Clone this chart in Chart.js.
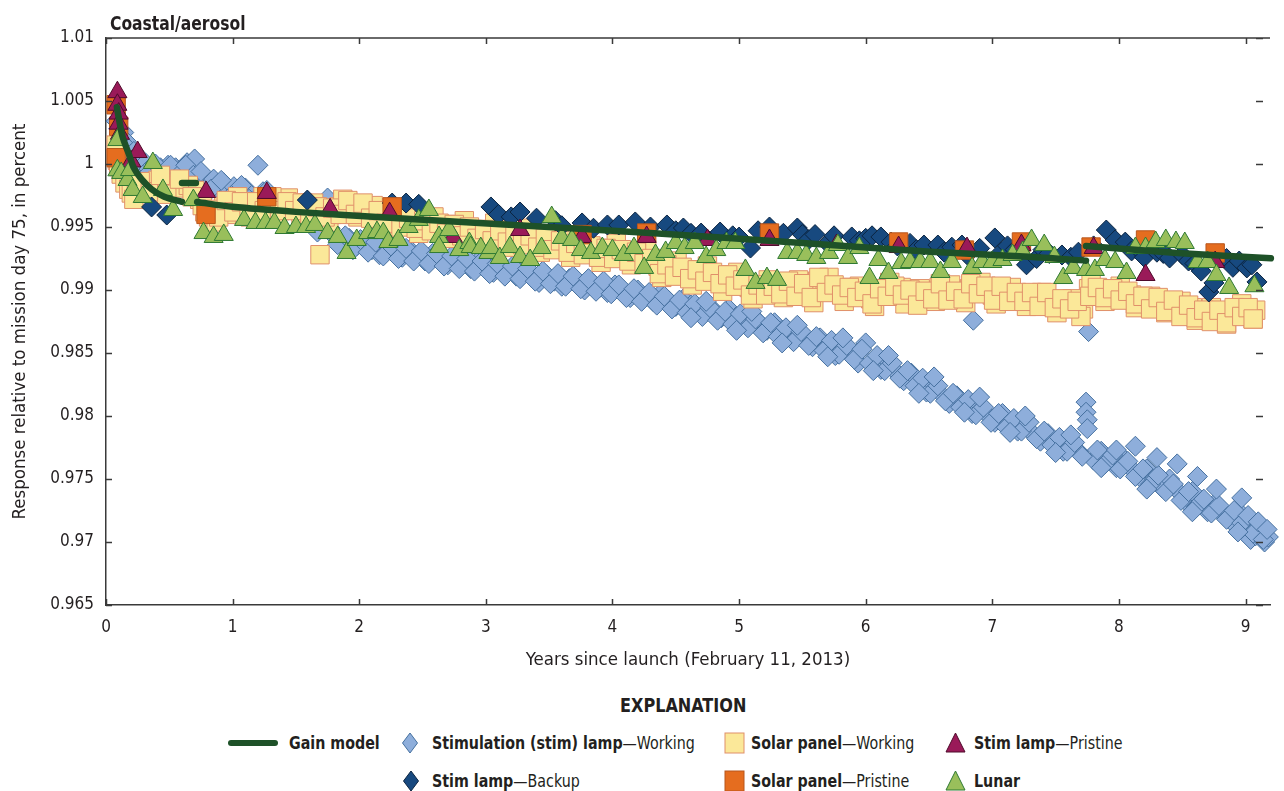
<!DOCTYPE html>
<html>
<head>
<meta charset="utf-8">
<script src="https://cdn.jsdelivr.net/npm/chart.js@4.4.1/dist/chart.umd.min.js"></script>
<style>
  html, body { margin: 0; padding: 0; background: #fff; }
  body { width: 1284px; height: 791px; position: relative; overflow: hidden;
         font-family: "Liberation Sans Narrow", "Arial Narrow", "DejaVu Sans Condensed", sans-serif; color: #231f20; }
  #wrap { position: absolute; left: 0; top: 0; width: 1284px; height: 680px; }
  #panelTitle { position: absolute; left: 110px; top: 12px; font-size: 19px; font-weight: bold;
                transform: scaleX(0.91); transform-origin: 0 0; }
  .head { position: absolute; left: 0; width: 1366px; top: 694px; text-align: center; font-size: 19px; font-weight: bold; }
  .head span { display: inline-block; transform: scaleX(0.94); }
  .item { position: absolute; font-size: 18px; line-height: 20px; white-space: nowrap;
          transform: scaleX(0.88); transform-origin: 0 0; }
  .item b { font-weight: bold; }
  .mk { position: absolute; }
</style>
</head>
<body>
<div id="wrap"><canvas id="graficoCoastal" width="1284" height="680"></canvas></div>
<div id="panelTitle">Coastal/aerosol</div>

<div class="head"><span>EXPLANATION</span></div>
<svg class="mk" style="left:226px;top:738px" width="54" height="10"><line x1="5" y1="5" x2="49" y2="5" stroke="#1e5128" stroke-width="6" stroke-linecap="round"/></svg>
<div class="item" style="left:289px;top:733px"><b>Gain model</b></div>
<svg class="mk" style="left:401px;top:732px" width="18" height="22"><polygon points="9,1 16.5,11 9,21 1.5,11" fill="#8eaedb" stroke="#45709f" stroke-width="1"/></svg>
<div class="item" style="left:432px;top:733px"><b>Stimulation (stim) lamp</b>—Working</div>
<svg class="mk" style="left:724px;top:732px" width="22" height="22"><rect x="1" y="1" width="19" height="20" fill="#fbe899" stroke="#e0906a" stroke-width="1"/></svg>
<div class="item" style="left:751px;top:733px"><b>Solar panel</b>—Working</div>
<svg class="mk" style="left:945px;top:732px" width="22" height="22"><polygon points="10.5,1 20,20 1,20" fill="#9a1a59" stroke="#4e0a2b" stroke-width="1"/></svg>
<div class="item" style="left:974px;top:733px"><b>Stim lamp</b>—Pristine</div>

<svg class="mk" style="left:402px;top:770px" width="18" height="22"><polygon points="9,1 16.5,11 9,21 1.5,11" fill="#17497f" stroke="#0b2440" stroke-width="1"/></svg>
<div class="item" style="left:432px;top:771px"><b>Stim lamp</b>—Backup</div>
<svg class="mk" style="left:724px;top:770px" width="22" height="22"><rect x="1" y="1" width="19" height="20" fill="#e56d1f" stroke="#b8561c" stroke-width="1"/></svg>
<div class="item" style="left:751px;top:771px"><b>Solar panel</b>—Pristine</div>
<svg class="mk" style="left:945px;top:770px" width="22" height="22"><polygon points="10.5,1 20,20 1,20" fill="#99bf5b" stroke="#2f7a33" stroke-width="1"/></svg>
<div class="item" style="left:974px;top:771px"><b>Lunar</b></div>

<script>
// Years since launch, response relative to mission day 75

const gainModel = [
  [0.086, 1.0045], [0.13, 1.0022], [0.18, 1.0008], [0.22, 0.9997], [0.28, 0.9988], [0.36, 0.9980],
  [0.46, 0.9974], [0.60, 0.9970], null,
  [0.60, 0.99849], [0.71, 0.99849], null,
  [0.72, 0.99698], [1.0, 0.9966], [1.5, 0.9962], [2.14, 0.9958], [3.08, 0.99524], [4.33, 0.9945],
  [5.5, 0.99373], [6.51, 0.99304], [7.29, 0.99264], [7.74, 0.99233], null,
  [7.74, 0.99349], [8.46, 0.99294], [9.2, 0.99252]
]

const stimWorking = [
  [0.08, 1.0034], [0.10, 1.0028], [0.12, 1.0022], [0.14, 1.0025], [0.16, 1.0018], [0.18, 1.0012],
  [0.20, 1.0008], [0.22, 1.0010], [0.25, 1.0003], [0.28, 0.9998], [0.31, 1.0001], [0.34, 0.9996],
  [0.37, 0.9999], [0.40, 0.9993], [0.43, 0.9997], [0.46, 0.9995], [0.49, 0.9999], [0.52, 0.9993],
  [0.55, 0.9997], [0.58, 0.9992], [0.61, 0.9996], [0.64, 1.0001], [0.67, 0.9994], [0.70, 1.0004],
  [0.73, 0.9990], [0.77, 0.9986], [0.81, 0.9983], [0.85, 0.9988], [0.89, 0.9980], [0.93, 0.9985],
  [0.97, 0.9978], [1.01, 0.9982], [1.05, 0.9976], [1.10, 0.9981], [1.15, 0.9975], [1.20, 0.9999],
  [1.24, 0.9978], [1.29, 0.9973], [1.34, 0.9970], [1.40, 0.9968], [1.46, 0.9965], [1.52, 0.9962],
  [1.58, 0.9958], [1.64, 0.9953], [1.70, 0.9949], [1.75, 0.9973], [1.80, 0.9943], [1.86, 0.9938],
  [1.92, 0.9941], [1.98, 0.9935], [2.04, 0.9939], [2.10, 0.9932], [2.16, 0.9928], [2.22, 0.9935],
  [2.28, 0.9930], [2.34, 0.9926], [2.40, 0.9932], [2.46, 0.9927], [2.52, 0.9923], [2.58, 0.9929],
  [2.64, 0.9924], [2.70, 0.9920], [2.76, 0.9926], [2.82, 0.9921], [2.88, 0.9917], [2.94, 0.9923],
  [3.00, 0.9918], [3.06, 0.9914], [3.12, 0.9920], [3.18, 0.9915], [3.24, 0.9911], [3.30, 0.9916],
  [3.36, 0.9910], [3.42, 0.9906], [3.48, 0.9912], [3.54, 0.9907], [3.60, 0.9903], [3.66, 0.9909],
  [3.72, 0.9904], [3.78, 0.9900], [3.84, 0.9906], [3.90, 0.9902], [3.96, 0.9898], [4.02, 0.9904],
  [4.08, 0.9899], [4.14, 0.9894], [4.20, 0.9900], [4.26, 0.9895], [4.32, 0.9891], [4.38, 0.9897],
  [4.44, 0.9892], [4.50, 0.9887], [4.56, 0.9893], [4.62, 0.9888], [4.68, 0.9883], [4.74, 0.9889],
  [4.80, 0.9884], [4.86, 0.9878], [4.92, 0.9885], [4.98, 0.9879], [5.04, 0.9873], [5.10, 0.9880],
  [5.16, 0.9874], [5.22, 0.9868], [5.28, 0.9874], [5.34, 0.9868], [5.40, 0.9862], [5.46, 0.9868],
  [5.52, 0.9861], [5.58, 0.9855], [5.64, 0.9862], [5.70, 0.9855], [5.76, 0.9848], [5.82, 0.9856],
  [5.88, 0.9849], [5.94, 0.9842], [6.00, 0.9858], [6.06, 0.9844], [6.12, 0.9837], [6.18, 0.9843],
  [6.24, 0.9835], [6.30, 0.9828], [6.36, 0.9834], [6.42, 0.9826], [6.48, 0.9819], [6.54, 0.9825],
  [6.60, 0.9817], [6.66, 0.9810], [6.72, 0.9816], [6.78, 0.9808], [6.84, 0.9802], [6.85, 0.9876],
  [6.90, 0.9809], [6.96, 0.9801], [7.02, 0.9795], [7.08, 0.9802], [7.14, 0.9794], [7.20, 0.9788],
  [7.26, 0.9795], [7.32, 0.9786], [7.38, 0.9780], [7.44, 0.9786], [7.50, 0.9779], [7.56, 0.9772],
  [7.62, 0.9779], [7.68, 0.9772], [7.74, 0.9811], [7.74, 0.9803], [7.75, 0.9797], [7.75, 0.9790],
  [7.76, 0.9867], [7.80, 0.9765], [7.86, 0.9772], [7.92, 0.9765], [7.98, 0.9759], [8.04, 0.9766],
  [8.10, 0.9758], [8.16, 0.9752], [8.22, 0.9758], [8.28, 0.9750], [8.34, 0.9743], [8.40, 0.9750],
  [8.46, 0.9741], [8.52, 0.9733], [8.58, 0.9740], [8.64, 0.9731], [8.70, 0.9724], [8.76, 0.9731],
  [8.82, 0.9722], [8.88, 0.9717], [8.94, 0.9725], [9.00, 0.9710], [9.04, 0.9702], [9.08, 0.9705],
  [9.12, 0.9712], [9.15, 0.9700], [9.18, 0.9704],
  // in-between dates, filling the band around the trend
  [0.33, 0.9992], [0.39, 1.0000], [0.45, 0.9991], [0.51, 0.9999], [0.57, 0.9991], [0.63, 0.9999],
  [0.69, 0.9991], [0.75, 0.9994], [0.83, 0.9980], [0.91, 0.9987], [0.99, 0.9975], [1.07, 0.9983],
  [1.13, 0.9972], [1.27, 0.9979], [1.37, 0.9965], [1.43, 0.9971], [1.55, 0.9956], [1.61, 0.9961],
  [1.67, 0.9946], [1.77, 0.9949], [1.83, 0.9936], [1.89, 0.9943], [1.95, 0.9932], [2.01, 0.9940],
  [2.07, 0.9930], [2.13, 0.9938], [2.19, 0.9927], [2.25, 0.9935], [2.31, 0.9925], [2.37, 0.9933],
  [2.43, 0.9923], [2.49, 0.9931], [2.55, 0.9921], [2.61, 0.9929], [2.67, 0.9919], [2.73, 0.9927],
  [2.79, 0.9917], [2.85, 0.9925], [2.91, 0.9915], [2.97, 0.9923], [3.03, 0.9913], [3.09, 0.9921],
  [3.15, 0.9911], [3.21, 0.9919], [3.27, 0.9909], [3.33, 0.9917], [3.39, 0.9907], [3.45, 0.9915],
  [3.51, 0.9905], [3.57, 0.9913], [3.63, 0.9903], [3.69, 0.9911], [3.75, 0.9901], [3.81, 0.9909],
  [3.87, 0.9899], [3.93, 0.9907], [3.99, 0.9897], [4.05, 0.9904], [4.11, 0.9894], [4.17, 0.9901],
  [4.23, 0.9891], [4.29, 0.9898], [4.35, 0.9888], [4.41, 0.9895], [4.47, 0.9885], [4.53, 0.9892],
  [4.59, 0.9882], [4.65, 0.9889], [4.71, 0.9879], [4.77, 0.9886], [4.83, 0.9876], [4.89, 0.9883],
  [4.95, 0.9873], [5.01, 0.9881], [5.07, 0.9870], [5.13, 0.9877], [5.19, 0.9866], [5.25, 0.9874],
  [5.31, 0.9863], [5.37, 0.9870], [5.43, 0.9859], [5.49, 0.9867], [5.55, 0.9856], [5.61, 0.9863],
  [5.67, 0.9852], [5.73, 0.9860], [5.79, 0.9849], [5.85, 0.9856], [5.91, 0.9845], [5.97, 0.9853],
  [6.03, 0.9842], [6.09, 0.9848], [6.15, 0.9836], [6.21, 0.9842], [6.27, 0.9830], [6.33, 0.9836],
  [6.39, 0.9824], [6.45, 0.9830], [6.51, 0.9818], [6.57, 0.9824], [6.63, 0.9812], [6.69, 0.9818],
  [6.75, 0.9807], [6.81, 0.9813], [6.87, 0.9801], [6.93, 0.9807], [6.99, 0.9795], [7.05, 0.9802],
  [7.11, 0.9791], [7.17, 0.9798], [7.23, 0.9788], [7.29, 0.9795], [7.35, 0.9782], [7.41, 0.9788],
  [7.47, 0.9777], [7.53, 0.9783], [7.59, 0.9772], [7.65, 0.9779], [7.71, 0.9768], [7.83, 0.9773],
  [7.89, 0.9762], [7.95, 0.9769], [8.01, 0.9758], [8.07, 0.9764], [8.13, 0.9752], [8.19, 0.9758],
  [8.25, 0.9746], [8.31, 0.9753], [8.37, 0.9740], [8.43, 0.9746], [8.49, 0.9733], [8.55, 0.9740],
  [8.61, 0.9728], [8.67, 0.9734], [8.73, 0.9723], [8.79, 0.9729], [8.85, 0.9718], [8.91, 0.9725],
  [8.97, 0.9715], [9.02, 0.9721], [9.06, 0.9707], [9.10, 0.9716], [9.14, 0.9702], [9.17, 0.9710],
  // outliers along the lower and upper edge
  [4.62, 0.9878], [4.98, 0.9868], [5.34, 0.9858], [5.70, 0.9847], [6.06, 0.9836], [6.42, 0.9818],
  [6.78, 0.9803], [7.14, 0.9787], [7.50, 0.9771], [7.86, 0.9759], [8.22, 0.9742], [8.58, 0.9724],
  [8.94, 0.9708], [4.74, 0.9891], [5.10, 0.9883], [5.46, 0.9872], [5.82, 0.9862], [6.18, 0.9848],
  [6.54, 0.9831], [6.90, 0.9815], [7.26, 0.9800], [7.62, 0.9785], [7.98, 0.9773], [8.13, 0.9776],
  [8.30, 0.9767], [8.46, 0.9762], [8.62, 0.9752], [8.77, 0.9742], [8.97, 0.9735]
]

const stimBackup = [
  [0.36, 0.99659], [0.48, 0.99595], [1.59, 0.99714], [2.26, 0.9969], [2.37, 0.9969], [2.47, 0.9968],
  [3.04, 0.99659], [3.10, 0.9960], [3.20, 0.9958], [3.27, 0.99619], [3.40, 0.9957], [3.55, 0.9955],
  [3.60, 0.9951], [3.76, 0.99532], [3.85, 0.9949], [3.96, 0.99516], [4.05, 0.99516], [4.18, 0.9954],
  [4.30, 0.9950], [4.43, 0.99516], [4.50, 0.9947], [4.56, 0.99492], [4.62, 0.9945], [4.70, 0.99452],
  [4.85, 0.9946], [4.95, 0.9943], [5.00, 0.9942], [5.09, 0.99333], [5.15, 0.9947], [5.24, 0.9950],
  [5.35, 0.9945], [5.46, 0.99492], [5.50, 0.9944], [5.55, 0.9940], [5.60, 0.9944], [5.70, 0.9937],
  [5.75, 0.9943], [5.89, 0.99421], [5.95, 0.9939], [6.00, 0.9941], [6.05, 0.9943], [6.12, 0.99421],
  [6.20, 0.9938], [6.25, 0.9935], [6.35, 0.9937], [6.40, 0.9932], [6.46, 0.99357], [6.57, 0.99357],
  [6.62, 0.9930], [6.68, 0.9934], [6.76, 0.99357], [6.80, 0.9928], [6.90, 0.9933], [7.02, 0.99413],
  [7.07, 0.9930], [7.12, 0.9935], [7.18, 0.9932], [7.27, 0.9920], [7.35, 0.9925], [7.40, 0.9932],
  [7.45, 0.9929], [7.55, 0.99278], [7.62, 0.9926], [7.68, 0.9930], [7.80, 0.9935], [7.90, 0.99476],
  [7.97, 0.99397], [8.05, 0.9938], [8.10, 0.9931], [8.15, 0.9933], [8.20, 0.9926], [8.30, 0.9930],
  [8.35, 0.9929], [8.40, 0.99254], [8.50, 0.9928], [8.55, 0.9923], [8.60, 0.9921], [8.65, 0.9915],
  [8.71, 0.98984], [8.75, 0.99056], [8.85, 0.9925], [8.90, 0.9918], [8.95, 0.9923], [9.01, 0.99175],
  [9.05, 0.9920], [9.09, 0.99064]
]

const solarWorking = [
  [0.08, 1.0015], [0.09, 1.0003], [0.10, 0.9998], [0.12, 0.9992], [0.15, 0.9985], [0.18, 0.9980],
  [0.20, 0.9977], [0.24, 0.9979], [0.29, 0.9981], [0.33, 0.9984], [0.37, 0.9986], [0.41, 0.9987],
  [0.45, 0.9984], [0.50, 0.9982], [0.55, 0.9983], [0.60, 0.9981], [0.65, 0.9983], [0.70, 0.9979],
  [0.74, 0.9972], [0.78, 0.9962], [0.81, 0.9958], [0.85, 0.9960], [0.89, 0.9963], [0.93, 0.9966],
  [0.97, 0.9969], [1.01, 0.9966], [1.06, 0.9968], [1.11, 0.9964], [1.16, 0.9967], [1.21, 0.9965],
  [1.26, 0.9969], [1.31, 0.9971], [1.36, 0.9968], [1.41, 0.9964], [1.46, 0.9967], [1.51, 0.9969],
  [1.56, 0.9963], [1.61, 0.9960], [1.66, 0.9962], [1.69, 0.9928], [1.72, 0.9965], [1.78, 0.9960],
  [1.84, 0.9966], [1.90, 0.9968], [1.96, 0.9964], [2.02, 0.9966], [2.08, 0.9962], [2.14, 0.9959],
  [2.20, 0.9957], [2.26, 0.9961], [2.32, 0.9955], [2.38, 0.9952], [2.44, 0.9956], [2.50, 0.9950],
  [2.56, 0.9953], [2.62, 0.9948], [2.68, 0.9952], [2.74, 0.9947], [2.80, 0.9950], [2.86, 0.9945],
  [2.92, 0.9948], [2.98, 0.9943], [3.04, 0.9946], [3.10, 0.9942], [3.16, 0.9945], [3.22, 0.9940],
  [3.28, 0.9943], [3.34, 0.9938], [3.40, 0.9941], [3.46, 0.9936], [3.52, 0.9939], [3.58, 0.9934],
  [3.64, 0.9937], [3.70, 0.9932], [3.76, 0.9935], [3.82, 0.9930], [3.88, 0.9933], [3.94, 0.9928],
  [4.00, 0.9931], [4.06, 0.9927], [4.12, 0.9930], [4.18, 0.9925], [4.24, 0.9928], [4.30, 0.9922],
  [4.36, 0.9919], [4.42, 0.9915], [4.48, 0.9918], [4.54, 0.9913], [4.60, 0.9916], [4.66, 0.9911],
  [4.72, 0.9914], [4.78, 0.9909], [4.84, 0.9912], [4.90, 0.9907], [4.96, 0.9910], [5.02, 0.9905],
  [5.08, 0.9902], [5.14, 0.9899], [5.20, 0.9903], [5.26, 0.9898], [5.32, 0.9902], [5.38, 0.9904],
  [5.44, 0.9899], [5.50, 0.9902], [5.56, 0.9897], [5.62, 0.9907], [5.68, 0.9903], [5.74, 0.9899],
  [5.80, 0.9902], [5.86, 0.9897], [5.92, 0.9900], [5.98, 0.9895], [6.04, 0.9893], [6.10, 0.9897],
  [6.16, 0.9901], [6.22, 0.9898], [6.28, 0.9902], [6.34, 0.9896], [6.40, 0.9892], [6.46, 0.9895],
  [6.52, 0.9899], [6.58, 0.9902], [6.64, 0.9897], [6.70, 0.9894], [6.76, 0.9898], [6.82, 0.9901],
  [6.88, 0.9903], [6.94, 0.9899], [7.00, 0.9896], [7.06, 0.9900], [7.12, 0.9896], [7.18, 0.9893],
  [7.24, 0.9897], [7.30, 0.9894], [7.36, 0.9891], [7.42, 0.9895], [7.48, 0.9891], [7.54, 0.9888],
  [7.60, 0.9891], [7.66, 0.9887], [7.72, 0.9885], [7.76, 0.9901], [7.80, 0.9897], [7.86, 0.9900],
  [7.92, 0.9896], [7.98, 0.9899], [8.04, 0.9894], [8.10, 0.9896], [8.16, 0.9892], [8.22, 0.9889],
  [8.28, 0.9892], [8.34, 0.9887], [8.40, 0.9890], [8.46, 0.9885], [8.52, 0.9883], [8.58, 0.9886],
  [8.64, 0.9881], [8.70, 0.9879], [8.76, 0.9882], [8.82, 0.9878], [8.88, 0.9880], [8.94, 0.9885],
  [9.00, 0.9883], [9.04, 0.9880], [9.08, 0.9884],
  // upper and lower edge of the band
  [0.22, 0.9972], [0.27, 0.9986], [0.35, 0.9978], [0.43, 0.9991], [0.48, 0.9976], [0.58, 0.9988],
  [0.68, 0.9974], [0.76, 0.9967], [0.87, 0.9954], [0.95, 0.9960], [1.04, 0.9974], [1.14, 0.9958],
  [1.24, 0.9974], [1.34, 0.9960], [1.44, 0.9973], [1.54, 0.9957], [1.64, 0.9969], [1.76, 0.9954],
  [1.87, 0.9972], [1.99, 0.9958], [2.11, 0.9967], [2.23, 0.9950], [2.35, 0.9962], [2.47, 0.9945],
  [2.59, 0.9958], [2.71, 0.9941], [2.83, 0.9955], [2.95, 0.9937], [3.07, 0.9953], [3.19, 0.9934],
  [3.31, 0.9949], [3.43, 0.9930], [3.55, 0.9944], [3.67, 0.9926], [3.79, 0.9941], [3.91, 0.9922],
  [4.03, 0.9937], [4.15, 0.9920], [4.27, 0.9932], [4.39, 0.9910], [4.51, 0.9923], [4.63, 0.9904],
  [4.75, 0.9919], [4.87, 0.9899], [4.99, 0.9914], [5.11, 0.9893], [5.23, 0.9908], [5.35, 0.9894],
  [5.47, 0.9908], [5.59, 0.9890], [5.71, 0.9910], [5.83, 0.9891], [5.95, 0.9903], [6.07, 0.9887],
  [6.19, 0.9906], [6.31, 0.9889], [6.43, 0.9901], [6.55, 0.9891], [6.67, 0.9904], [6.79, 0.9890],
  [6.91, 0.9906], [7.03, 0.9889], [7.15, 0.9902], [7.27, 0.9887], [7.39, 0.9898], [7.51, 0.9882],
  [7.63, 0.9893], [7.70, 0.9879], [7.78, 0.9906], [7.89, 0.9891], [8.01, 0.9903], [8.13, 0.9886],
  [8.25, 0.9895], [8.37, 0.9882], [8.49, 0.9891], [8.61, 0.9876], [8.73, 0.9886], [8.85, 0.9873],
  [8.97, 0.9889], [9.06, 0.9877],
  // in-between dates
  [0.83, 0.9964], [0.89, 0.9958], [0.95, 0.9971], [1.01, 0.9962], [1.07, 0.9970], [1.13, 0.9960],
  [1.19, 0.9970], [1.25, 0.9963], [1.31, 0.9974], [1.37, 0.9963], [1.43, 0.9970], [1.49, 0.9963],
  [1.55, 0.9969], [1.61, 0.9956], [1.67, 0.9966], [1.73, 0.9958], [1.79, 0.9965], [1.85, 0.9960],
  [1.91, 0.9971], [1.97, 0.9960], [2.03, 0.9969], [2.09, 0.9957], [2.15, 0.9963], [2.21, 0.9953],
  [2.27, 0.9963], [2.33, 0.9950], [2.39, 0.9957], [2.45, 0.9949], [2.51, 0.9955], [2.57, 0.9947],
  [2.63, 0.9953], [2.69, 0.9945], [2.75, 0.9952], [2.81, 0.9943], [2.87, 0.9950], [2.93, 0.9941],
  [2.99, 0.9948], [3.05, 0.9939], [3.11, 0.9947], [3.17, 0.9938], [3.23, 0.9945], [3.29, 0.9936],
  [3.35, 0.9943], [3.41, 0.9934], [3.47, 0.9941], [3.53, 0.9932], [3.59, 0.9939], [3.65, 0.9930],
  [3.71, 0.9937], [3.77, 0.9928], [3.83, 0.9935], [3.89, 0.9926], [3.95, 0.9933], [4.01, 0.9925],
  [4.07, 0.9932], [4.13, 0.9923], [4.19, 0.9930], [4.25, 0.9921], [4.31, 0.9925], [4.37, 0.9913],
  [4.43, 0.9920], [4.49, 0.9911], [4.55, 0.9918], [4.61, 0.9909], [4.67, 0.9916], [4.73, 0.9907],
  [4.79, 0.9914], [4.85, 0.9905], [4.91, 0.9912], [4.97, 0.9903], [5.03, 0.9908], [5.09, 0.9896],
  [5.15, 0.9904], [5.21, 0.9896], [5.27, 0.9903], [5.33, 0.9897], [5.39, 0.9907], [5.45, 0.9895],
  [5.51, 0.9905], [5.57, 0.9894], [5.63, 0.9910], [5.69, 0.9898], [5.75, 0.9904], [5.81, 0.9896],
  [5.87, 0.9902], [5.93, 0.9894], [5.99, 0.9899], [6.05, 0.9889], [6.11, 0.9901], [6.17, 0.9895],
  [6.23, 0.9903], [6.29, 0.9896], [6.35, 0.9900], [6.41, 0.9888], [6.47, 0.9899], [6.53, 0.9893],
  [6.59, 0.9905], [6.65, 0.9892], [6.71, 0.9899], [6.77, 0.9893], [6.83, 0.9905], [6.89, 0.9897],
  [6.95, 0.9903], [7.01, 0.9892], [7.07, 0.9903], [7.13, 0.9891], [7.19, 0.9898], [7.25, 0.9891],
  [7.31, 0.9898], [7.37, 0.9887], [7.43, 0.9898], [7.49, 0.9886], [7.55, 0.9893], [7.61, 0.9885],
  [7.67, 0.9891], [7.77, 0.9895], [7.83, 0.9902], [7.89, 0.9894], [7.95, 0.9901], [8.01, 0.9892],
  [8.07, 0.9899], [8.13, 0.9889], [8.19, 0.9895], [8.25, 0.9885], [8.31, 0.9894], [8.37, 0.9883],
  [8.43, 0.9892], [8.49, 0.9879], [8.55, 0.9888], [8.61, 0.9878], [8.67, 0.9884], [8.73, 0.9875],
  [8.79, 0.9884], [8.85, 0.9874], [8.91, 0.9886], [8.97, 0.9879], [9.02, 0.9886], [9.06, 0.9877]
]

const solarPristine = [
  [0.08, 1.0047], [0.08, 1.0005], [0.10, 1.0030], [0.79, 0.9960], [1.27, 0.9974], [2.26, 0.9966],
  [3.76, 0.9944], [4.27, 0.99452], [5.24, 0.99452], [6.26, 0.99381], [6.78, 0.99317], [7.23, 0.99381],
  [7.78, 0.99341], [8.21, 0.99397], [8.76, 0.99294]
]

const stimPristine = [
  [0.09, 1.0057], [0.09, 1.0047], [0.10, 1.0040], [0.10, 1.0032], [0.11, 1.0024], [0.20, 1.0002],
  [0.25, 1.00095], [0.79, 0.99778], [1.27, 0.9977], [1.77, 0.9964], [2.24, 0.9961], [2.74, 0.99421],
  [3.27, 0.99476], [3.76, 0.99421], [4.27, 0.99421], [4.75, 0.99397], [5.24, 0.99397], [5.77, 0.99357],
  [6.26, 0.99341], [6.80, 0.99333], [7.23, 0.99357], [7.80, 0.99333], [8.21, 0.99119], [8.76, 0.99222]
]

const lunar = [
  [0.09, 1.0019], [0.09, 0.9995], [0.12, 0.99929], [0.17, 0.99873], [0.19, 0.99952], [0.21, 0.99794],
  [0.29, 0.99738], [0.37, 1.00008], [0.45, 0.99794], [0.53, 0.99635], [0.69, 0.99714], [0.77, 0.99452],
  [0.85, 0.99421], [0.93, 0.99437], [1.09, 0.99556], [1.18, 0.99532], [1.26, 0.99532], [1.33, 0.99532],
  [1.41, 0.99492], [1.50, 0.9950], [1.58, 0.9950], [1.65, 0.99516], [1.75, 0.99452], [1.83, 0.99421],
  [1.90, 0.99294], [1.98, 0.99397], [2.07, 0.99452], [2.14, 0.9946], [2.19, 0.99452], [2.23, 0.99381],
  [2.31, 0.99397], [2.39, 0.9950], [2.47, 0.99556], [2.55, 0.99635], [2.63, 0.99421], [2.63, 0.99341],
  [2.71, 0.99476], [2.79, 0.99317], [2.87, 0.99373], [2.88, 0.99341], [2.96, 0.99333], [3.02, 0.99294],
  [3.04, 0.99333], [3.11, 0.99254], [3.19, 0.99341], [3.27, 0.99262], [3.35, 0.99238], [3.44, 0.99333],
  [3.52, 0.99579], [3.60, 0.99413], [3.68, 0.99397], [3.75, 0.99317], [3.83, 0.99294], [3.92, 0.99333],
  [4.00, 0.99317], [4.09, 0.99278], [4.17, 0.99333], [4.25, 0.99175], [4.34, 0.99278], [4.42, 0.99302],
  [4.50, 0.99373], [4.57, 0.99333], [4.65, 0.99373], [4.74, 0.99262], [4.82, 0.99317], [4.90, 0.99373],
  [4.97, 0.99373], [5.05, 0.99159], [5.13, 0.99056], [5.22, 0.99095], [5.30, 0.9908], [5.38, 0.99294],
  [5.46, 0.99294], [5.53, 0.99278], [5.61, 0.99254], [5.71, 0.99294], [5.78, 0.99357], [5.86, 0.99254],
  [5.95, 0.99333], [6.03, 0.99095], [6.10, 0.99238], [6.18, 0.99135], [6.28, 0.99214], [6.35, 0.99222],
  [6.43, 0.99222], [6.51, 0.99222], [6.59, 0.99143], [6.68, 0.99222], [6.84, 0.99175], [6.92, 0.99222],
  [7.00, 0.99222], [7.08, 0.99238], [7.16, 0.99278], [7.24, 0.99302], [7.31, 0.99397], [7.41, 0.99357],
  [7.49, 0.99262], [7.56, 0.99095], [7.64, 0.99175], [7.74, 0.99159], [7.81, 0.99159], [7.89, 0.99238],
  [7.97, 0.99222], [8.06, 0.99135], [8.13, 0.99333], [8.21, 0.99333], [8.29, 0.99381], [8.37, 0.99397],
  [8.45, 0.99381], [8.52, 0.99373], [8.62, 0.99222], [8.70, 0.99222], [8.77, 0.99119], [8.87, 0.99016],
  [9.07, 0.9903]
]

const xTicksMax = 9.193
const fuente = '"Liberation Sans Narrow", "Arial Narrow", "DejaVu Sans Condensed", sans-serif'
const colorEje = '#3a3a3a'

// ticks pointing into the plot on all four sides, plus the top frame line
const ticksInternos = {
  id: 'ticksInternos',
  afterDraw(chart) {
    const { ctx, chartArea: a, scales: { x, y } } = chart
    ctx.save()
    ctx.strokeStyle = colorEje
    ctx.lineWidth = 1.5
    ctx.beginPath()
    ctx.moveTo(a.left, a.top)
    ctx.lineTo(a.right, a.top)
    x.ticks.forEach(t => {
      const px = Math.round(x.getPixelForValue(t.value)) + 0.5
      ctx.moveTo(px, a.bottom); ctx.lineTo(px, a.bottom - 6)
      ctx.moveTo(px, a.top); ctx.lineTo(px, a.top + 6)
    })
    y.ticks.forEach(t => {
      const py = Math.round(y.getPixelForValue(t.value)) + 0.5
      ctx.moveTo(a.left, py); ctx.lineTo(a.left + 6, py)
      ctx.moveTo(a.right - 14, py); ctx.lineTo(a.right - 7, py)
    })
    ctx.stroke()
    ctx.restore()
  }
}

const serie = (data, estilo, fondo, borde, radio, orden) => ({
  data: data,
  pointStyle: estilo,
  pointRadius: radio,
  pointBackgroundColor: fondo,
  pointBorderColor: borde,
  pointBorderWidth: 1,
  showLine: false,
  order: orden,
  clip: false
})

const generarGraficoCoastal = () => {
  let lienzo = document.getElementById('graficoCoastal')

  new Chart(lienzo, {
    type: 'scatter',
    data: {
      datasets: [
        {
          data: gainModel.map(p => p ? { x: p[0], y: p[1] } : { x: null, y: null }),
          showLine: true,
          spanGaps: false,
          borderColor: '#1e5128',
          borderWidth: 6.5,
          borderCapStyle: 'round',
          pointRadius: 0,
          tension: 0.3,
          order: 0,
          clip: false
        },
        serie(lunar, 'triangle', '#99bf5b', '#2f7a33', 11, 1),
        serie(stimPristine, 'triangle', '#9a1a59', '#4e0a2b', 11, 2),
        serie(solarPristine, 'rect', '#e56d1f', '#b8561c', 13, 3),
        serie(stimBackup, 'rectRot', '#17497f', '#0b2440', 10, 4),
        serie(solarWorking, 'rect', '#fbe899', '#e0906a', 13, 5),
        serie(stimWorking, 'rectRot', '#8eaedb', '#45709f', 10, 6)
      ]
    },
    options: {
      responsive: false,
      animation: false,
      events: [],
      layout: { padding: { top: 38, left: 0, right: 0, bottom: 0 } },
      plugins: { legend: { display: false }, tooltip: { enabled: false } },
      scales: {
        x: {
          type: 'linear',
          min: 0,
          max: xTicksMax,
          afterFit: s => { s.height = 75 },
          grid: { display: false, drawTicks: false },
          border: { display: true, color: colorEje, width: 1.5 },
          ticks: { stepSize: 1, includeBounds: false, padding: 12, color: '#231f20', font: { family: fuente, size: 17 } },
          title: { display: true, text: 'Years since launch (February 11, 2013)', color: '#231f20',
                   font: { family: fuente, size: 18.5 }, padding: { top: 0, bottom: 9 } }
        },
        y: {
          min: 0.965,
          max: 1.01,
          afterFit: s => { s.width = 106 },
          grid: { display: false, drawTicks: false },
          border: { display: true, color: colorEje, width: 1.5 },
          ticks: { stepSize: 0.005, padding: 12, color: '#231f20', font: { family: fuente, size: 17 },
                   callback: v => String(Number(v.toFixed(3))) },
          title: { display: true, text: 'Response relative to mission day 75, in percent', color: '#231f20',
                   font: { family: fuente, size: 18.5 }, padding: { top: 9, bottom: 0 } }
        }
      }
    },
    plugins: [ticksInternos]
  })
}

generarGraficoCoastal()
</script>
</body>
</html>
